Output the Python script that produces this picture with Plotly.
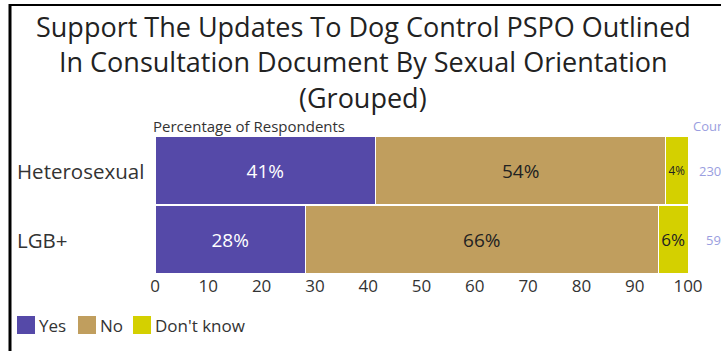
import plotly.graph_objects as go

categories = ["Heterosexual", "LGB+"]
counts = [230, 59]
series_names = ["Yes", "No", "Don't know"]
yes_vals = [41.4, 28.2]
no_vals = [54.4, 66.2]
dk_vals = [4.2, 5.6]
x_ticks = [0, 10, 20, 30, 40, 50, 60, 70, 80, 90, 100]
title_lines = ["Support The Updates To Dog Control PSPO Outlined",
               "In Consultation Document By Sexual Orientation",
               "(Grouped)"]

colors = ["#5549A8", "#C09E5E", "#D4D000"]
text_colors = ["white", "#222222", "#222222"]

W, H = 721, 351
L, R, T, B = 155, 33, 136, 77
pw, ph = W - L - R, H - T - B

def px_x(px):
    return (px - L) / pw

def px_y(py):
    return (H - B - py) / ph

FONT = "Open Sans"

fig = go.Figure()
for name, vals, col, tcol in zip(series_names, [yes_vals, no_vals, dk_vals], colors, text_colors):
    fig.add_trace(go.Bar(
        y=categories, x=vals, name=name, orientation="h",
        marker=dict(color=col, line=dict(color="white", width=1)),
        text=vals, texttemplate="%{x:.0f}%", textposition="inside",
        insidetextanchor="middle", textangle=0,
        insidetextfont=dict(color=tcol, size=19, family=FONT),
        hoverinfo="skip", showlegend=False,
    ))

annotations = []
for cat in categories:
    annotations.append(dict(x=px_x(15), y=cat, xref="paper", yref="y", text=cat,
                            xanchor="left", yanchor="middle", showarrow=False,
                            font=dict(size=20.5, color="#333333", family=FONT)))
for cat, c in zip(categories, counts):
    annotations.append(dict(x=px_x(723), y=cat, xref="paper", yref="y", text=str(c),
                            xanchor="right", yanchor="middle", showarrow=False,
                            font=dict(size=13, color="#9A9EE0", family=FONT)))
annotations.append(dict(x=px_x(691), y=px_y(126), xref="paper", yref="paper", text="Count",
                        xanchor="left", yanchor="middle", showarrow=False,
                        font=dict(size=13, color="#9A9EE0", family=FONT)))
annotations.append(dict(x=px_x(151), y=px_y(126), xref="paper", yref="paper",
                        text="Percentage of Respondents",
                        xanchor="left", yanchor="middle", showarrow=False,
                        font=dict(size=15, color="#333333", family=FONT)))

shapes = [
    dict(type="line", xref="paper", yref="paper", x0=px_x(10), x1=px_x(721), y0=px_y(5), y1=px_y(5),
         line=dict(color="black", width=2)),
    dict(type="line", xref="paper", yref="paper", x0=px_x(10), x1=px_x(10), y0=px_y(4), y1=px_y(351),
         line=dict(color="black", width=3)),
]

# custom legend (large square swatches)
legend_sq_left = [17, 78, 133]
for name, col, x0 in zip(series_names, colors, legend_sq_left):
    shapes.append(dict(type="rect", xref="paper", yref="paper",
                       x0=px_x(x0), x1=px_x(x0 + 18), y0=px_y(316), y1=px_y(334),
                       fillcolor=col, line=dict(width=0)))
    annotations.append(dict(x=px_x(x0 + 20), y=px_y(325), xref="paper", yref="paper", text=name,
                            xanchor="left", yanchor="middle", showarrow=False,
                            font=dict(size=17, color="#333333", family=FONT)))

for line, cy in zip(title_lines, [26, 61.5, 97]):
    annotations.append(dict(x=px_x(363), y=px_y(cy), xref="paper", yref="paper", text=line,
                            xanchor="center", yanchor="middle", showarrow=False, borderpad=0,
                            font=dict(size=27, color="#222222", family=FONT)))

fig.update_layout(
    width=W, height=H,
    margin=dict(l=L, r=R, t=T, b=B),
    paper_bgcolor="white", plot_bgcolor="white",
    barmode="stack", bargap=0.02,
    font=dict(family=FONT, color="#333333"),
    xaxis=dict(range=[0, 100], tickvals=x_ticks, showgrid=False, zeroline=False,
               tickfont=dict(size=17, color="#333333"), ticks="", fixedrange=True),
    yaxis=dict(categoryorder="array", categoryarray=categories, autorange="reversed",
               showticklabels=False, showgrid=False, zeroline=False, ticks=""),
    showlegend=False,
    annotations=annotations,
    shapes=shapes,
)

fig.write_html("out.html", config={"displayModeBar": False},
               post_script="document.body.style.margin='0';document.body.style.overflow='hidden';")
